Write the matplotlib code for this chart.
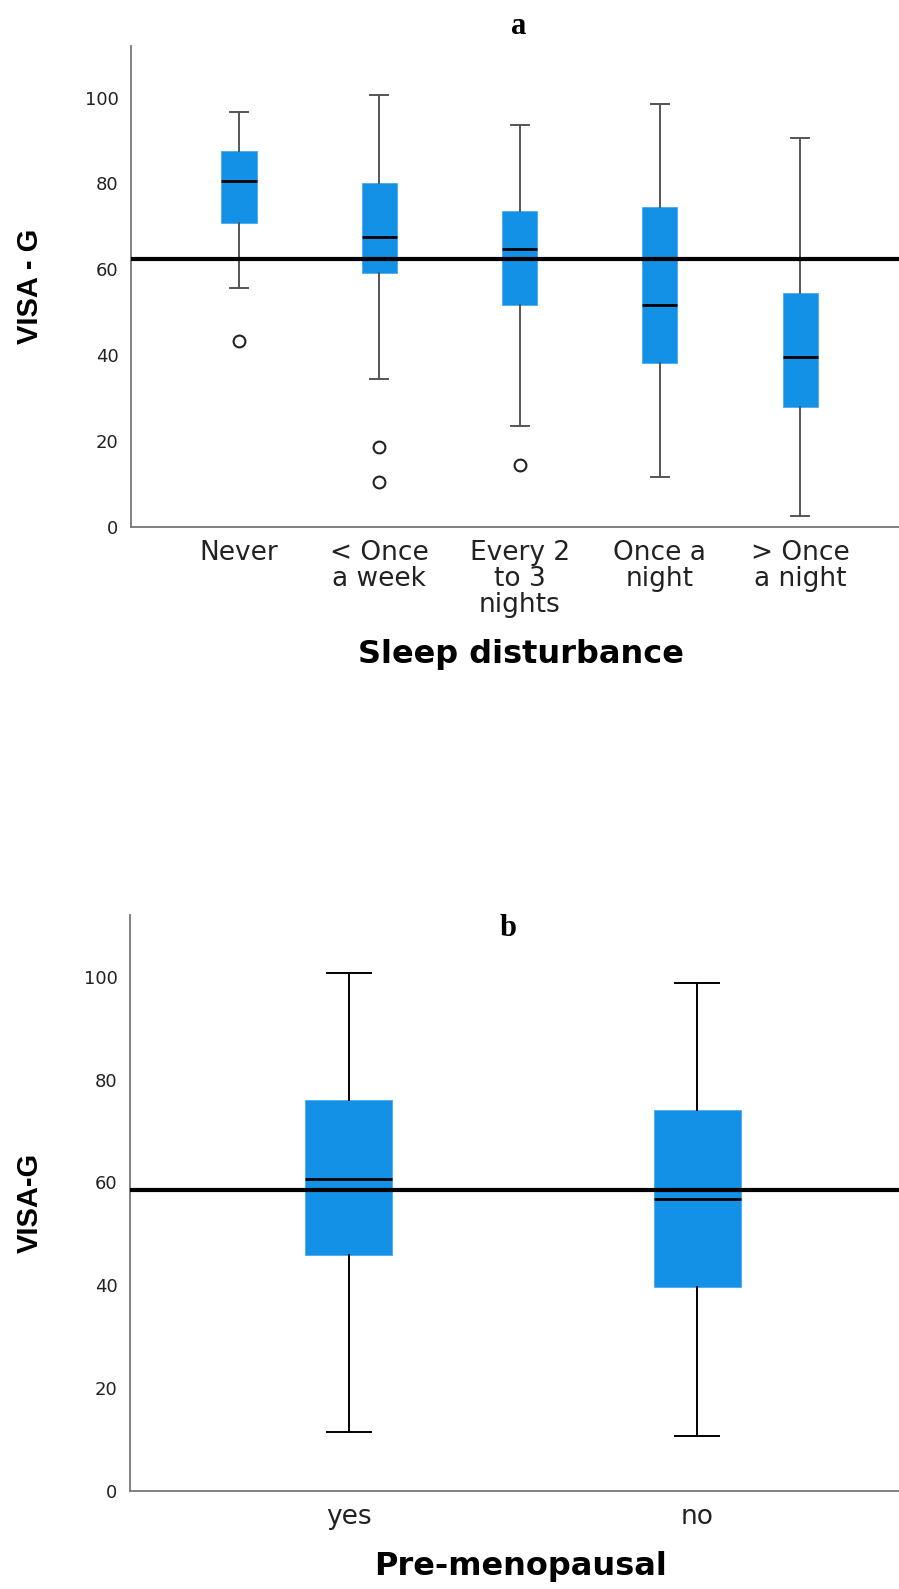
import matplotlib
matplotlib.use("Agg")
import matplotlib.pyplot as plt

# panel a: sleep disturbance
sleep_cats = ["Never", "< Once\na week", "Every 2\nto 3\nnights", "Once a\nnight", "> Once\na night"]
sleep_whislo = [55.6, 34.5, 23.5, 11.6, 2.5]
sleep_q1 = [70.7, 59.1, 51.6, 38.2, 28.0]
sleep_med = [80.6, 67.6, 64.7, 51.6, 39.5]
sleep_q3 = [87.5, 80.1, 73.5, 74.5, 54.5]
sleep_whishi = [96.7, 100.6, 93.6, 98.6, 90.6]
sleep_fliers = [[43.4], [18.6, 10.5], [14.5], [], []]
sleep_ref = 62.5

# panel b: pre-menopausal
meno_cats = ["yes", "no"]
meno_whislo = [11.5, 10.6]
meno_q1 = [45.8, 39.7]
meno_med = [60.6, 56.7]
meno_q3 = [76.1, 74.1]
meno_whishi = [100.8, 98.7]
meno_fliers = [[], []]
meno_ref = 58.6

yticks = [0, 20, 40, 60, 80, 100]

box_farbe = "#1391e6"


def stats(lo, q1, med, q3, hi, fl):
    out = []
    for i in range(len(med)):
        out.append({"whislo": lo[i], "q1": q1[i], "med": med[i], "q3": q3[i],
                    "whishi": hi[i], "fliers": fl[i]})
    return out


def panel(ax, st, cats, ref, whisk_col, breite, cap, xlim):
    ax.bxp(st, positions=range(len(st)), widths=breite, capwidths=cap,
           patch_artist=True, showfliers=True,
           boxprops=dict(facecolor=box_farbe, edgecolor="#4aa8ee", linewidth=0.6),
           medianprops=dict(color="black", linewidth=2),
           whiskerprops=dict(color=whisk_col, linewidth=1.4),
           capprops=dict(color=whisk_col, linewidth=1.4),
           flierprops=dict(marker="o", markersize=8.5, markerfacecolor="none",
                           markeredgecolor="#222222", markeredgewidth=1.5))
    ax.axhline(ref, color="black", linewidth=3, zorder=5)
    ax.set_xlim(xlim)
    ax.set_ylim(0, 112)
    ax.set_yticks(yticks)
    ax.set_yticklabels([str(t) for t in yticks], fontsize=13, family="DejaVu Sans")
    ax.set_xticks(range(len(cats)))
    ax.set_xticklabels(cats, fontsize=19, family="DejaVu Sans", linespacing=1.02,
                       color="#222222")
    ax.tick_params(axis="y", length=0, pad=9, colors="#222222")
    ax.tick_params(axis="x", length=0, pad=9)
    for s in ["top", "right"]:
        ax.spines[s].set_visible(False)
    for s in ["left", "bottom"]:
        ax.spines[s].set_color("#777777")
        ax.spines[s].set_linewidth(1.3)


fig = plt.figure(figsize=(8.99, 15.89), dpi=100)

ax_a = fig.add_axes([131 / 899, 1 - 527 / 1589, 768 / 899, 481 / 1589])
panel(ax_a, stats(sleep_whislo, sleep_q1, sleep_med, sleep_q3, sleep_whishi, sleep_fliers),
      sleep_cats, sleep_ref, "#555555", 0.25, 0.13, (-0.77, 4.704))
ax_a.set_ylabel("VISA - G", fontsize=21, fontweight="bold", family="Liberation Sans",
                va="center")
ax_a.yaxis.set_label_coords((30 - 131) / 768, 0.5)
ax_a.set_xlabel("Sleep disturbance", fontsize=23, fontweight="bold", va="center")
ax_a.xaxis.set_label_coords((521 - 131) / 768, (527 - 654) / 481)
ax_a.text((519 - 131) / 768, (527 - 26) / 481, "a", transform=ax_a.transAxes,
          ha="center", va="center", fontsize=22, fontweight="bold", family="Liberation Serif")

ax_b = fig.add_axes([130 / 899, 1 - 1491 / 1589, 769 / 899, 576 / 1589])
panel(ax_b, stats(meno_whislo, meno_q1, meno_med, meno_q3, meno_whishi, meno_fliers),
      meno_cats, meno_ref, "black", 0.25, 0.127, (-0.629, 1.58))
ax_b.set_ylabel("VISA-G", fontsize=21, fontweight="bold", family="Liberation Sans",
                va="center")
ax_b.yaxis.set_label_coords((30 - 130) / 769, 0.5)
ax_b.set_xlabel("Pre-menopausal", fontsize=23, fontweight="bold", va="center")
ax_b.xaxis.set_label_coords((521 - 130) / 769, (1491 - 1566) / 576)
ax_b.text((508 - 130) / 769, (1491 - 929) / 576, "b", transform=ax_b.transAxes,
          ha="center", va="center", fontsize=22, fontweight="bold", family="Liberation Serif")

plt.savefig("out.png", dpi=100)
